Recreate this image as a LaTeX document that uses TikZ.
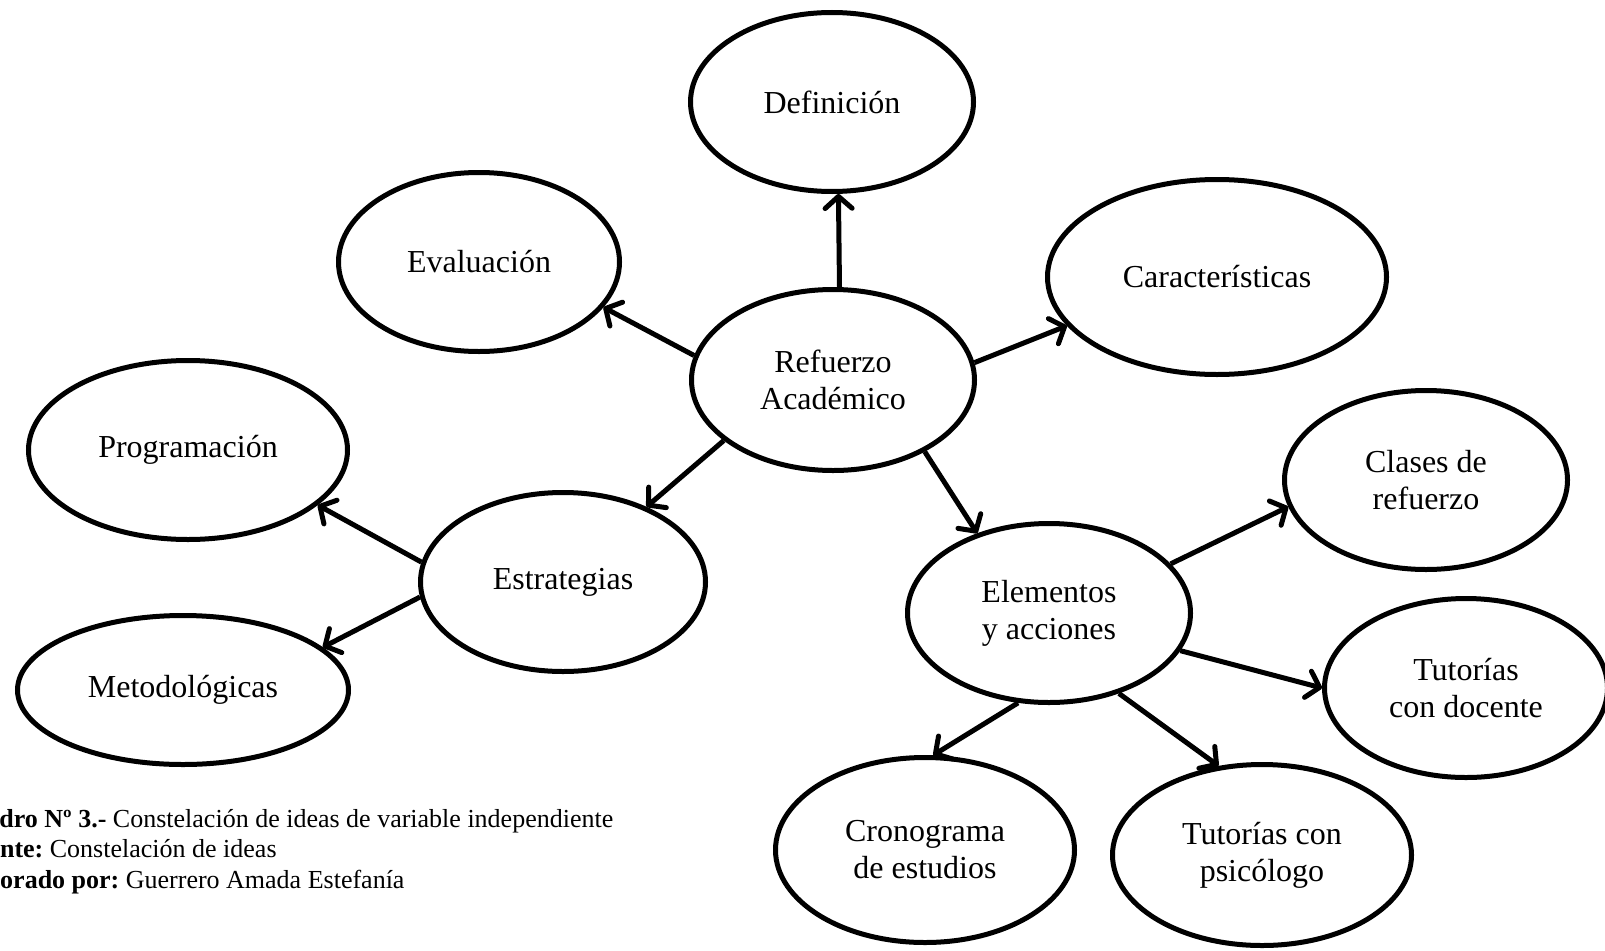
\documentclass[tikz,border=0pt]{standalone}
\usepackage{fontspec}
\setmainfont{Liberation Serif}
\usetikzlibrary{shapes.geometric,arrows.meta}
\frenchspacing
\begin{document}
\begin{tikzpicture}[x=1pt,y=-1pt,
  bubble/.style={ellipse,draw,line width=5pt,inner sep=0pt,align=center,font=\fontsize{32}{37}\selectfont},
  conn/.style={line width=5pt,-{Straight Barb[length=12pt,width=27pt,round]}},
  captxt/.style={anchor=base west,inner sep=0pt,font=\fontsize{26}{30}\selectfont}
]
\useasboundingbox (0,0) rectangle (1605,950);
\fill[white] (0,0) rectangle (1605,950);

\node[bubble,minimum width=283pt,minimum height=179pt] (def) at (832,102) {Definición};
\node[bubble,minimum width=281pt,minimum height=179pt] (eva) at (479,262) {Evaluación};
\node[bubble,minimum width=339pt,minimum height=195pt] (car) at (1217,277) {Características};
\node[bubble,minimum width=283pt,minimum height=181pt] (ref) at (833,380) {Refuerzo\\Académico};
\node[bubble,minimum width=319pt,minimum height=179pt] (prog) at (188,450) {Programación};
\node[bubble,minimum width=285pt,minimum height=179pt] (est) at (563,582) {Estrategias};
\node[bubble,minimum width=331pt,minimum height=149pt] (met) at (183,690) {Metodológicas};
\node[bubble,minimum width=283pt,minimum height=179pt] (cla) at (1426,480) {Clases de\\refuerzo};
\node[bubble,minimum width=283pt,minimum height=179pt] (elem) at (1049,613) {Elementos\\y acciones};
\node[bubble,minimum width=283pt,minimum height=179pt] (tdoc) at (1466,688) {Tutorías\\con docente};
\node[bubble,minimum width=299pt,minimum height=185pt] (cro) at (925,850) {Cronograma\\de estudios};
\node[bubble,minimum width=299pt,minimum height=181pt] (tpsi) at (1262,855) {Tutorías con\\psicólogo};

\draw[conn] (ref.86) -- (def.-86);
\draw[conn] (ref.170) -- (eva.-20);
\draw[conn] (ref.7) -- (car.198);
\draw[conn] (ref.209) -- (est.42);
\draw[conn] (ref.-38) -- (elem.132);
\draw[conn] (est.172) -- (prog.-23);
\draw[conn] (est.186) -- (met.17);
\draw[conn] (elem.22) -- (cla.191);
\draw[conn] (elem.-16) -- (tdoc.180);
\draw[conn] (elem.-109) -- (cro.85);
\draw[conn] (elem.-49) -- (tpsi.116);

\node[captxt] (c1) at (-47,827) {\textbf{Cuadro Nº 3.-} Constelación de ideas de variable independiente};
\node[captxt] (c2) at (-42,857) {\textbf{Fuente:} Constelación de ideas};
\node[captxt] (c3) at (-52,888) {\textbf{Elaborado por:} Guerrero Amada Estefanía};
\end{tikzpicture}
\end{document}
